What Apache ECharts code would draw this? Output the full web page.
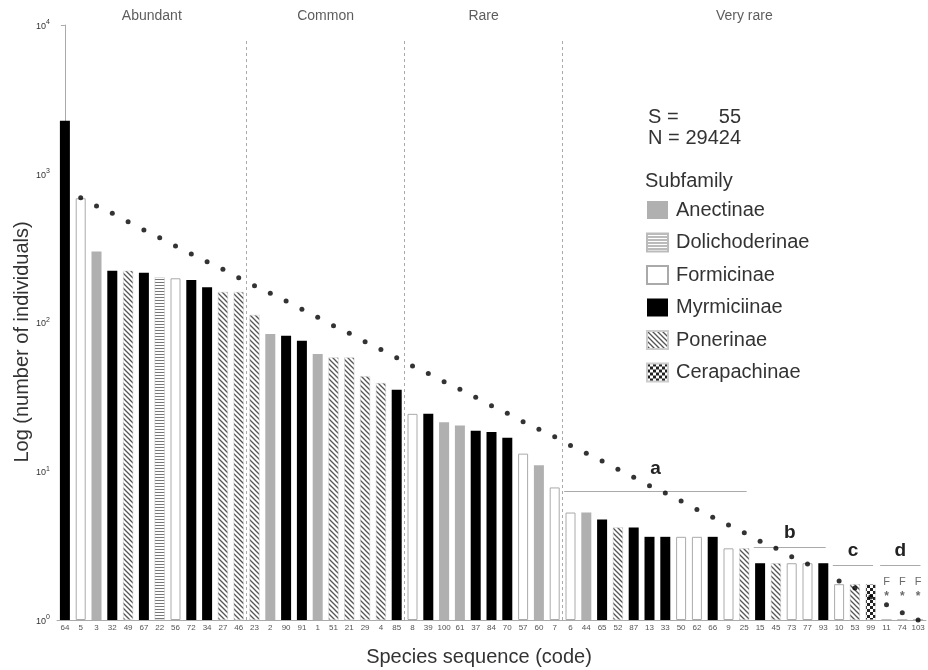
<!DOCTYPE html>
<html>
<head>
<meta charset="utf-8">
<script src="https://cdn.jsdelivr.net/npm/echarts@6/dist/echarts.min.js"></script>
<style>
html,body{margin:0;padding:0;background:#fff;}
#chart{width:928px;height:670px;}
</style>
</head>
<body>
<div id="chart"></div>
<script>
// ---------- DATA ----------
const speciesCodes = ['64','5','3','32','49','67','22','56','72','34','27','46','23',
  '2','90','91','1','51','21','29','4','85',
  '8','39','100','61','37','84','70','57','60','7',
  '6','44','65','52','87','13','33','50','62','66','9','25','15','45','73','77','93','10','53','99','11','74','103'];

const individuals = [15700, 3500, 1250, 861, 861, 829, 758, 744, 720, 625, 571, 571, 366,
  253, 245, 222, 172, 161, 161, 112, 98, 86,
  54, 54, 46, 43, 39, 38, 34, 25, 20, 13,
  8, 8, 7, 6, 6, 5, 5, 5, 5, 5, 4, 4, 3, 3, 3, 3, 3, 2, 2, 2, 1, 1, 1];

// A=Anectinae, D=Dolichoderinae, F=Formicinae, M=Myrmiciinae, P=Ponerinae, C=Cerapachinae
const subfamilyCode = ['M','F','A','M','P','M','D','F','M','M','P','P','P',
  'A','M','M','A','P','P','P','P','M',
  'F','M','A','A','M','M','M','F','A','F',
  'F','A','M','P','M','M','M','F','F','M','F','P','M','P','F','F','M','F','P','C','F','F','F'];

const subfamilyKeys = ['A','D','F','M','P','C'];
const subfamilyNames = ['Anectinae','Dolichoderinae','Formicinae','Myrmiciinae','Ponerinae','Cerapachinae'];

// expected (dotted) series
const expectedValues = [null, 3538, 3013, 2616, 2224, 1894, 1632, 1390, 1190, 1025, 885,
  752, 645, 556, 479, 408, 350, 297, 257, 218, 188,
  160, 136, 118, 100.6, 86.8, 74.4, 63.2, 54.6, 46.4, 40.0,
  34.7, 29.2, 25.2, 21.7, 18.5, 15.8, 13.4, 11.7, 10.0, 8.5,
  7.3, 6.3, 5.4, 4.6, 4.0, 3.4, 2.95, 2.5, 2.13, 1.86,
  1.56, 1.34, 1.15, 1.0];

const sectionNames = ['Abundant','Common','Rare','Very rare'];
const sectionFirstIndex = [0, 12, 22, 32];
const sectionLastIndex = [11, 21, 31, 54];

const groupNames = ['a','b','c','d'];
const groupFirstIndex = [32, 44, 49, 52];
const groupLastIndex = [43, 48, 51, 54];
const groupLevel = [12, 4.05, 2.86, 2.86];

const noteIndex = [52, 53, 54];
const noteLetters = ['F','F','F'];

const yTickExponents = [0, 1, 2, 3, 4];
const totalIndividuals = 29424;

// ---------- STYLE ----------
const FONT = '"Liberation Sans", Arial, sans-serif';
const NARROW = '"Liberation Sans Narrow", "Liberation Sans", Arial, sans-serif';

function makeCanvas(w, h, draw) {
  const c = document.createElement('canvas');
  c.width = w; c.height = h;
  const g = c.getContext('2d');
  g.fillStyle = '#fff'; g.fillRect(0, 0, w, h);
  draw(g);
  return c;
}
const hatch = makeCanvas(5, 5, g => {
  g.strokeStyle = '#555'; g.lineWidth = 1.3;
  g.beginPath();
  g.moveTo(-1, -1); g.lineTo(6, 6);
  g.moveTo(-1, 4); g.lineTo(1, 6);
  g.moveTo(4, -1); g.lineTo(6, 1);
  g.stroke();
});
const hlines = makeCanvas(4, 3, g => { g.fillStyle = '#777'; g.fillRect(0, 0, 4, 1); });
const checker = makeCanvas(6, 6, g => { g.fillStyle = '#222'; g.fillRect(0, 0, 3, 3); g.fillRect(3, 3, 3, 3); });

const subfamilyStyle = {
  A: { color: '#b0b0b0' },
  D: { color: { image: hlines, repeat: 'repeat' }, borderColor: '#bbb', borderWidth: 0.5 },
  F: { color: '#fff', borderColor: '#aaa', borderWidth: 1 },
  M: { color: '#000' },
  P: { color: { image: hatch, repeat: 'repeat' }, borderColor: '#ccc', borderWidth: 0.5 },
  C: { color: { image: checker, repeat: 'repeat' }, borderColor: '#ccc', borderWidth: 0.5 }
};

// ---------- SERIES ----------
const series = [];
subfamilyKeys.forEach((k, si) => {
  series.push({
    name: subfamilyNames[si],
    type: 'bar',
    xAxisIndex: 0, yAxisIndex: 0,
    barWidth: 10,
    barGap: '-100%',
    itemStyle: subfamilyStyle[k],
    data: individuals.map((v, i) => subfamilyCode[i] === k ? v : '-'),
    z: 2
  });
});

series.push({
  name: 'expected',
  type: 'scatter',
  xAxisIndex: 0, yAxisIndex: 0,
  symbol: 'circle', symbolSize: 5,
  itemStyle: { color: '#000' },
  data: expectedValues.map(v => v === null ? '-' : v),
  z: 5
});

// annotation lines (section separators + groups)
const markData = [];
for (let s = 1; s < sectionFirstIndex.length; s++) {
  const x = sectionFirstIndex[s] - 0.5;
  markData.push([
    { coord: [x, 1], lineStyle: { type: [3, 3], color: '#aaa', width: 1 }, label: { show: false } },
    { coord: [x, Math.pow(10, 4.88)] }
  ]);
}
groupNames.forEach((name, gi) => {
  markData.push([
    { coord: [groupFirstIndex[gi] - 0.4, groupLevel[gi]], name: name,
      lineStyle: { type: 'solid', color: '#aaa', width: 1 },
      label: { show: true, position: 'middle', formatter: name, distance: gi === 0 ? 13 : 5,
               fontSize: 19, fontWeight: 'bold', color: '#222', fontFamily: FONT } },
    { coord: [groupLastIndex[gi] + 0.15, groupLevel[gi]] }
  ]);
});

series.push({
  name: 'annotations',
  type: 'line',
  xAxisIndex: 1, yAxisIndex: 0,
  data: [],
  silent: true,
  markLine: {
    silent: true,
    symbol: ['none', 'none'],
    animation: false,
    data: markData
  }
});

// section titles
series.push({
  name: 'sections',
  type: 'scatter',
  xAxisIndex: 1, yAxisIndex: 0,
  symbolSize: 0,
  silent: true,
  clip: false,
  data: sectionNames.map((n, i) => ({
    value: [(sectionFirstIndex[i] + sectionLastIndex[i]) / 2, 100000],
    name: n
  })),
  label: { show: true, position: 'top', distance: 2, formatter: p => p.name,
           fontSize: 14, color: '#333', fontFamily: FONT }
});

// notes for group d
series.push({
  name: 'notesF',
  type: 'scatter',
  xAxisIndex: 0, yAxisIndex: 0,
  symbolSize: 0, silent: true,
  data: noteIndex.map((idx, i) => ({ value: [speciesCodes[idx], 2.09], name: noteLetters[i] })),
  label: { show: true, position: 'inside', formatter: p => p.name, fontSize: 11, color: '#444', fontFamily: FONT }
});
series.push({
  name: 'notesStar',
  type: 'scatter',
  xAxisIndex: 0, yAxisIndex: 0,
  symbolSize: 0, silent: true,
  data: noteIndex.map(idx => [speciesCodes[idx], 1.56]),
  label: { show: true, position: 'inside', formatter: '*', fontSize: 12, fontWeight: 'bold', color: '#444', fontFamily: FONT }
});

const chart = echarts.init(document.getElementById('chart'), null, { renderer: 'canvas' });
chart.setOption({
  animation: false,
  backgroundColor: '#fff',
  textStyle: { fontFamily: FONT },
  title: [
    {
      left: 643, top: 102,
      text: '{l|S =}{r|' + speciesCodes.length + '}\n{l|N =}{r|' + totalIndividuals + '}',
      textStyle: {
        fontSize: 20, fontWeight: 'normal', color: '#333', lineHeight: 21, fontFamily: FONT,
        rich: {
          l: { width: 37, fontSize: 20, lineHeight: 21, color: '#333', fontFamily: FONT },
          r: { width: 56, align: 'right', fontSize: 20, lineHeight: 21, color: '#333', fontFamily: FONT }
        }
      }
    },
    {
      left: 640, top: 166, text: 'Subfamily',
      textStyle: { fontSize: 20, fontWeight: 'normal', color: '#333', fontFamily: FONT }
    }
  ],
  legend: {
    data: subfamilyNames,
    orient: 'vertical',
    left: 641, top: 195,
    icon: 'rect',
    itemWidth: 21, itemHeight: 18,
    itemGap: 12.5,
    textStyle: { fontSize: 20, color: '#333', fontFamily: FONT, padding: [0, 0, 0, 3] }
  },
  grid: { left: 57, top: 25, width: 869, height: 595, outerBoundsMode: 'none' },
  xAxis: [
    {
      type: 'category', data: speciesCodes,
      axisLine: { lineStyle: { color: '#aaa' } },
      axisTick: { show: false },
      axisLabel: { interval: 0, fontSize: 8, color: '#555', margin: 4, fontFamily: NARROW }
    },
    { type: 'value', min: -0.5, max: 54.5, show: false }
  ],
  yAxis: [
    {
      type: 'log', logBase: 10, min: 1, max: 100000,
      axisLine: { show: true, lineStyle: { color: '#aaa' } },
      axisTick: { show: true, length: 4, lineStyle: { color: '#aaa' } },
      axisLabel: { show: false },
      splitLine: { show: false }
    },
    {
      type: 'log', logBase: 10, min: 1, max: 10000, position: 'left',
      axisLine: { show: false }, axisTick: { show: false }, splitLine: { show: false },
      axisLabel: {
        margin: 7,
        formatter: v => {
          const e = Math.round(Math.log10(v));
          return yTickExponents.indexOf(e) >= 0 ? '{b|10}{s|' + e + '}' : '';
        },
        rich: {
          b: { fontSize: 9, color: '#333', verticalAlign: 'bottom', fontFamily: FONT },
          s: { fontSize: 7, color: '#333', verticalAlign: 'top', padding: [0, 0, 5, 0], fontFamily: FONT }
        }
      }
    }
  ],
  graphic: [
    { type: 'text', x: 22, y: 342, rotation: Math.PI / 2,
      style: { text: 'Log (number of individuals)', font: '20px ' + FONT, fill: '#333', align: 'center', verticalAlign: 'middle' } },
    { type: 'text', x: 479, y: 657,
      style: { text: 'Species sequence (code)', font: '20px ' + FONT, fill: '#333', align: 'center', verticalAlign: 'middle' } }
  ],
  series: series
});
</script>
</body>
</html>
